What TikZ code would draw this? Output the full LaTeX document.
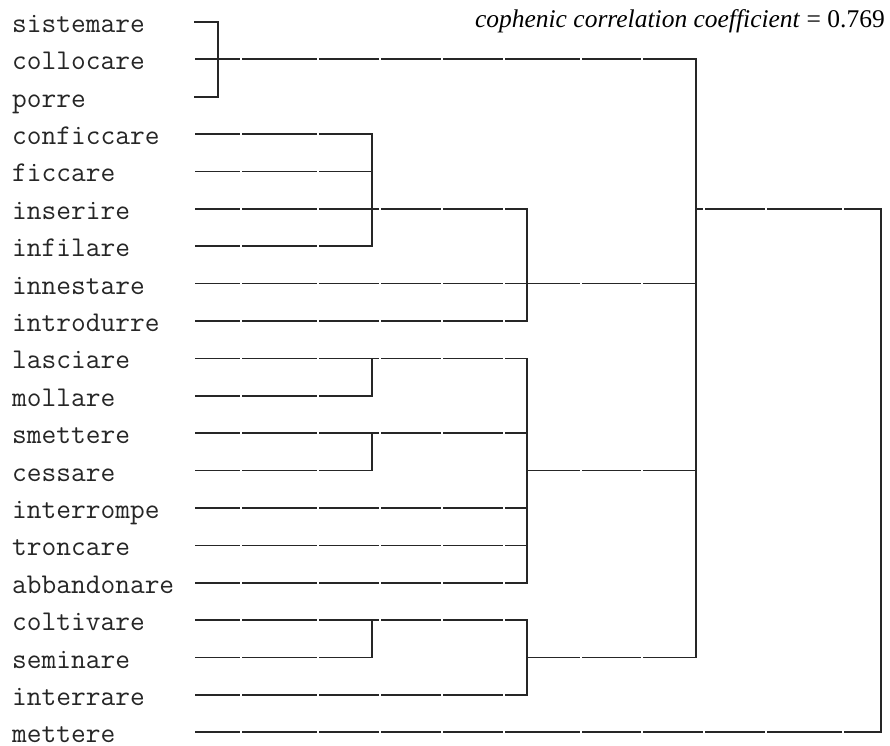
\documentclass[tikz,border=0pt]{standalone}
\usepackage{fontspec}
\setmainfont{Liberation Serif}
\tikzset{
  ln/.style={line width=1.7pt, draw=black!85, line cap=rect},
  lab/.style={anchor=base west, inner sep=0pt, text depth=0pt, font=\ttfamily\fontsize{28.6}{28.6}\selectfont, text=black!85},
}
\newcommand\hseg[3]{%
  \draw[ln] (#2,#1) -- (#3,#1);
  \foreach \g in {241,318,380,442,504,581,642,704,766,843}{%
    \ifdim\g pt>#2pt\relax\ifdim\g pt<#3pt\relax
      \fill[white] (\g-0.8,#1-2) rectangle (\g+0.8,#1+2);
    \fi\fi}}
\newcommand\vseg[3]{\draw[ln] (#1,#2) -- (#1,#3);}
\begin{document}
\begin{tikzpicture}[x=1pt,y=-1pt]
\fill[white] (0,0) rectangle (890,745);
\useasboundingbox (0,0) rectangle (890,745);
% labels
\foreach \k/\w in {1/sistemare,2/collocare,3/porre,4/conficcare,5/ficcare,6/inserire,7/infilare,8/innestare,9/introdurre,10/lasciare,11/mollare,12/smettere,13/cessare,14/interrompe,15/troncare,16/abbandonare,17/coltivare,18/seminare,19/interrare,20/mettere}{%
  \node[lab] (l\k) at (12,{21.9+37.39*(\k-1)+10.5}) {\w};
}
\node[anchor=base east, inner sep=0pt, font=\fontsize{25.5}{25.5}\selectfont] (title) at (885,27) {\textit{cophenic correlation coefficient} = 0.769};
% cluster 1
\hseg{21.9}{195}{218}
\hseg{96.7}{195}{218}
\vseg{218}{21.9}{96.7}
\hseg{59.3}{196}{696}
% cluster 2
\hseg{134.1}{196}{372}
\hseg{171.5}{196}{372}
\hseg{246.2}{196}{372}
\hseg{208.9}{196}{527}
\vseg{372}{134.1}{246.2}
\hseg{283.6}{196}{696}
\hseg{321.0}{196}{527}
\vseg{527}{208.9}{321.0}
% cluster 3
\hseg{358.4}{196}{527}
\hseg{395.8}{196}{372}
\vseg{372}{358.4}{395.8}
\hseg{433.2}{196}{527}
\hseg{470.6}{196}{372}
\vseg{372}{433.2}{470.6}
\hseg{508.0}{196}{527}
\hseg{545.4}{196}{527}
\hseg{582.8}{196}{527}
\vseg{527}{358.4}{582.8}
\hseg{470.6}{527}{696}
% cluster 4
\hseg{620.1}{196}{527}
\hseg{657.5}{196}{372}
\vseg{372}{620.1}{657.5}
\hseg{694.9}{196}{527}
\vseg{527}{620.1}{694.9}
\hseg{657.5}{527}{696}
% top joins
\vseg{696}{59.3}{657.5}
\hseg{208.9}{696}{881}
\vseg{881}{208.9}{732.3}
\hseg{732.3}{196}{881}
\end{tikzpicture}
\end{document}
